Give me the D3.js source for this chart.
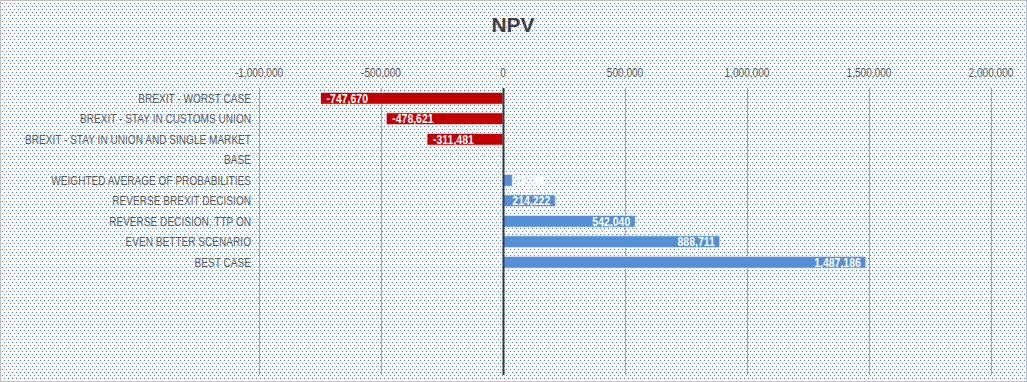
<!DOCTYPE html>
<html><head><meta charset="utf-8">
<script src="https://cdn.jsdelivr.net/npm/d3@7"></script>
<style>body{margin:0;background:#fff}svg{display:block}</style>
</head><body><svg id="c" width="1027" height="382"></svg>
<script>
const title = "NPV";
const categories = [
  "BREXIT - WORST CASE",
  "BREXIT - STAY IN CUSTOMS UNION",
  "BREXIT - STAY IN UNION AND SINGLE MARKET",
  "BASE",
  "WEIGHTED AVERAGE OF PROBABILITIES",
  "REVERSE BREXIT DECISION",
  "REVERSE DECISION, TTP ON",
  "EVEN BETTER SCENARIO",
  "BEST CASE"
];
const npvValues = [-747670, -478621, -311481, 0, 38000, 214222, 542040, 888711, 1487186];
const emptySlots = 5;
const tickValues = [-1000000, -500000, 0, 500000, 1000000, 1500000, 2000000];

const W = 1027, H = 382;
const FONT = "'Liberation Sans', Arial, sans-serif";
const SX = 0.84; // horizontal compression to mimic a narrow font
const svg = d3.select("#c");
const defs = svg.append("defs");
const pat = defs.append("pattern").attr("id","dots").attr("patternUnits","userSpaceOnUse")
  .attr("width",4).attr("height",6);
pat.append("rect").attr("width",4).attr("height",6).attr("fill","#fff");
pat.append("rect").attr("x",0).attr("y",0).attr("width",1).attr("height",1).attr("fill","#4a7cc4");
pat.append("rect").attr("x",2).attr("y",3).attr("width",1).attr("height",1).attr("fill","#4a7cc4");
svg.append("rect").attr("width",W).attr("height",H).attr("fill","url(#dots)");
svg.append("rect").attr("x",0.5).attr("y",0.5).attr("width",W-1).attr("height",H-1)
  .attr("fill","none").attr("stroke","#bfbfbf");

const x = d3.scaleLinear().domain([-1000000, 2000000]).range([259, 991]);
const slots = categories.map((c,i)=>"c"+i).concat(d3.range(emptySlots).map(i=>"e"+i));
const y = d3.scaleBand().domain(slots).range([88, 375]).paddingInner(0.42).paddingOuter(0.21);
const fmt = v => d3.format(",")(v).replace("\u2212","-");

function ntext(g, tx, ty, str, opts) {
  const t = g.append("text").attr("transform", `translate(${tx},${ty}) scale(${SX},1)`)
    .attr("font-family", FONT).attr("font-size", opts.size).attr("fill", opts.fill)
    .attr("text-anchor", opts.anchor || "start").attr("dy", opts.dy || "0.36em").text(str);
  if (opts.bold) t.attr("font-weight","bold");
  return t;
}

svg.append("text").attr("x", 513).attr("y", 32).attr("text-anchor","middle")
  .attr("font-family",FONT).attr("font-weight","bold")
  .attr("font-size", 21).attr("fill","#404040").text(title);

// gridlines
svg.append("g").selectAll("line").data(tickValues.filter(v=>v!==0)).join("line")
  .attr("x1", d=>x(d)+0.5).attr("x2", d=>x(d)+0.5).attr("y1", 88).attr("y2", 375)
  .attr("stroke","#a6a6a6").attr("stroke-width",1);

// top axis
const ax = svg.append("g");
tickValues.forEach(v => ntext(ax, x(v), 73, fmt(v), {size: 12, fill:"#595959", anchor:"middle"}));

// bars
const bars = svg.append("g");
categories.forEach((c,i)=>{
  const v = npvValues[i];
  const key = "c"+i;
  if (v !== 0) {
    bars.append("rect").attr("x", Math.min(x(v), x(0))).attr("y", y(key))
      .attr("width", Math.abs(x(v)-x(0))).attr("height", y.bandwidth())
      .attr("fill", v<0 ? "#c00000" : "#558ed5").attr("stroke","#f2f2f2").attr("stroke-width",0.8);
    const cy = y(key)+y.bandwidth()/2;
    if (v < 0) ntext(bars, x(v)+6, cy, fmt(v), {size: 12.5, fill:"#fff", bold:true});
    else if (x(v)-x(0) < 40) ntext(bars, x(0)+12, cy, fmt(v), {size: 12.5, fill:"#fff", bold:true});
    else ntext(bars, x(v)-5, cy, fmt(v), {size: 12.5, fill:"#fff", bold:true, anchor:"end"});
  }
});

// category labels
const cl = svg.append("g");
categories.forEach((c,i)=> ntext(cl, 251, y("c"+i)+y.bandwidth()/2, c, {size: 12, fill:"#595959", anchor:"end"}));

// zero axis line
svg.append("line").attr("x1", x(0)+0.5).attr("x2", x(0)+0.5).attr("y1", 88).attr("y2", 375)
  .attr("stroke","#333a45").attr("stroke-width",2);
</script></body></html>
